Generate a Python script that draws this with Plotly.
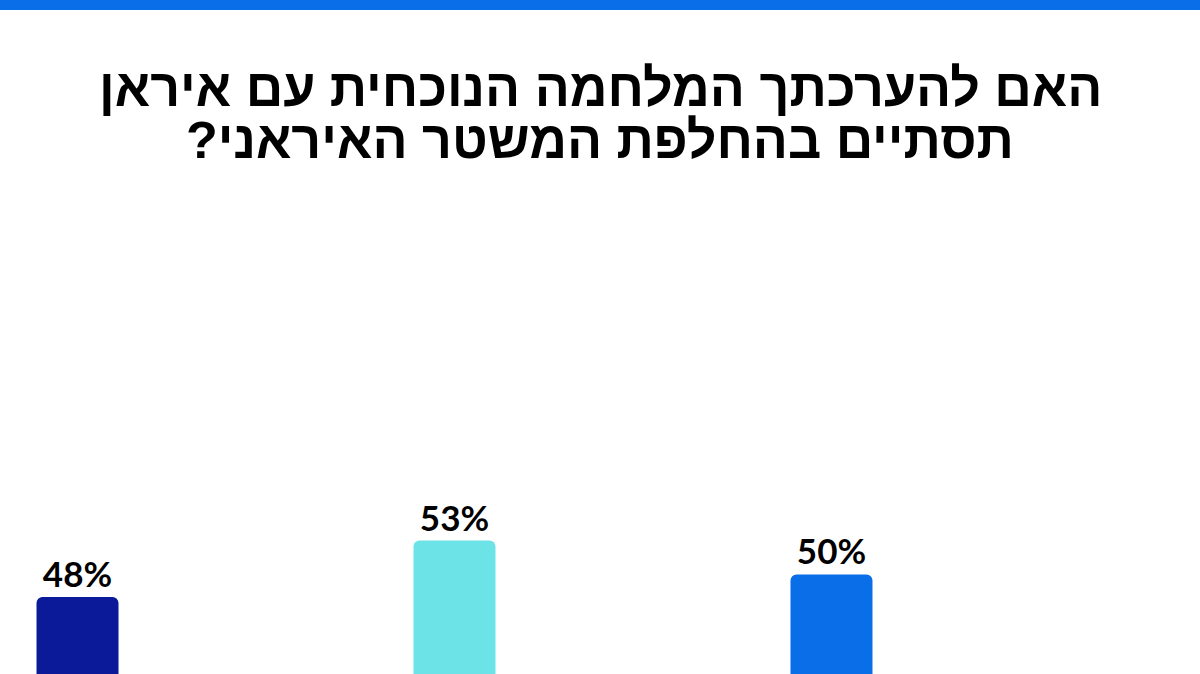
import plotly.graph_objects as go

# values (category labels are cut off below the frame)
groups = [0, 1, 2]
values = [48, 53, 50]
labels = ['48%', '53%', '50%']
colors = ['#0a1a98', '#6ce3e6', '#0a6ee8']

title_lines = ['האם להערכתך המלחמה הנוכחית עם איראן',
               'תסתיים בהחלפת המשטר האיראני?']

fig = go.Figure()
fig.add_trace(go.Bar(
    x=groups, y=values, width=0.2175,
    marker=dict(color=colors, cornerradius=6, line=dict(width=0)),
    text=labels, textposition='outside', cliponaxis=False,
    textfont=dict(family='Lato', size=35, color='#000000', weight='bold'),
))

# one annotation per title line so the line gap can be set tighter
title_notes = []
for i, line in enumerate(title_lines):
    title_notes.append(dict(
        text='\u200f' + line + '\u200f', xref='paper', yref='paper',
        x=0.5, y=1 - (88 + 52 * i) / 674, xanchor='center', yanchor='middle',
        showarrow=False,
        font=dict(family='Liberation Sans', size=52, color='#000000', weight='bold')))

fig.update_layout(
    width=1200, height=674,
    margin=dict(l=0, r=0, t=0, b=0),
    paper_bgcolor='white', plot_bgcolor='white',
    showlegend=False,
    xaxis=dict(range=[-0.2056, 2.9775], visible=False, fixedrange=True),
    yaxis=dict(range=[41.19, 100.84], visible=False, fixedrange=True),
    shapes=[dict(type='rect', xref='paper', yref='paper', x0=0, x1=1,
                 y0=1 - 10 / 674, y1=1, fillcolor='#0a6ee8', line=dict(width=0))],
    annotations=title_notes,
)

fig.write_html('out.html', config={'displayModeBar': False},
               post_script="document.body.style.margin='0';")
